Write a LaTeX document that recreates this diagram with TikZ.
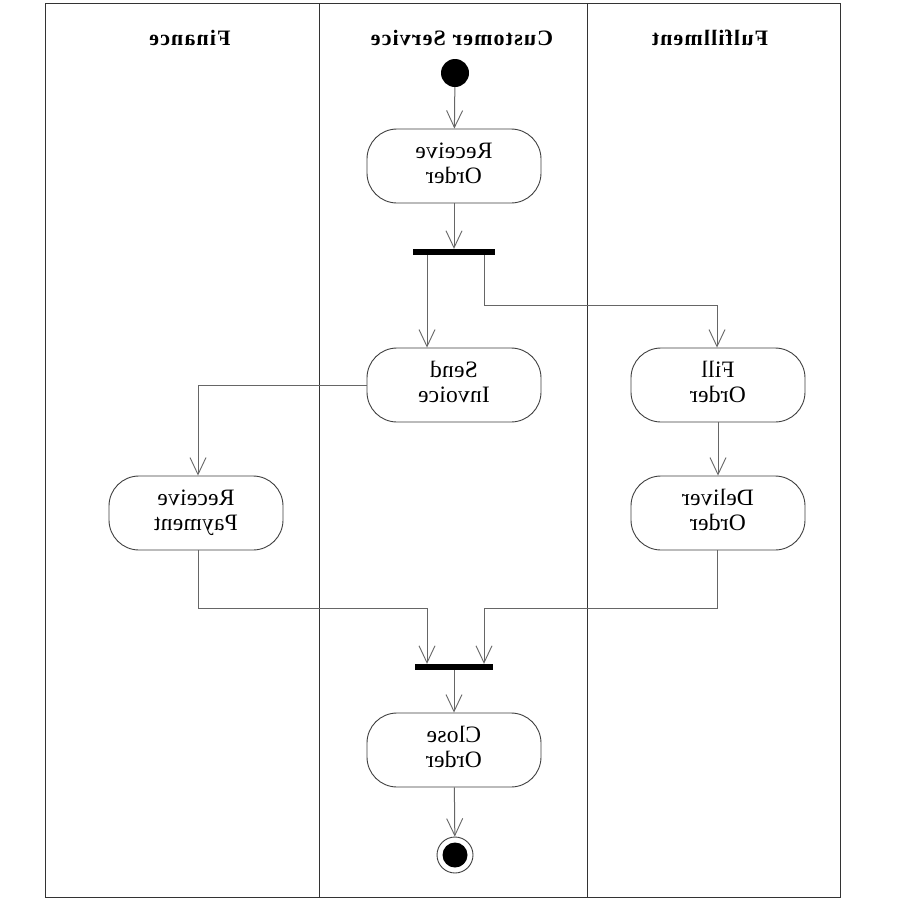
\documentclass[tikz,border=0pt]{standalone}
\usepackage{fontspec}
\setmainfont{Liberation Serif}
\newfontfamily\headfont[LetterSpace=5]{Liberation Serif}
\newfontfamily\actfont[LetterSpace=1]{Liberation Serif}
\usetikzlibrary{arrows.meta}
\tikzset{
  lane/.style={draw=black!80, line width=0.9pt},
  action/.style={draw=black!75, line width=0.9pt, rounded corners=30pt,
    minimum width=174pt, minimum height=74pt, fill=white},
  flow/.style={draw=black!60, line width=1pt,
    -{Straight Barb[length=17pt,width=16pt,line width=0.9pt]}},
  bar/.style={fill=black, draw=none, minimum width=82pt, minimum height=6pt, inner sep=0pt},
  lanehead/.style={font=\headfont\fontsize{22}{26}\selectfont\bfseries},
  acttext/.style={font=\actfont\fontsize{23.5}{25.5}\selectfont, align=center}
}
\newcommand{\mirtxt}[1]{\reflectbox{\begin{tabular}{@{}c@{}}#1\end{tabular}}}
\begin{document}
\begin{tikzpicture}[x=1pt,y=-1pt]
  \useasboundingbox (0,0) rectangle (900,900);
  \fill[white] (0,0) rectangle (900,900);

  % swimlane frame
  \draw[lane] (45,3) rectangle (840,897);
  \draw[lane] (319,3) -- (319,897);
  \draw[lane] (587,3) -- (587,897);

  \node[lanehead] (hfin) at (190,38) {\reflectbox{Finance}};
  \node[lanehead] (hcs) at (462,38) {\reflectbox{Customer Service}};
  \node[lanehead] (hful) at (710,38) {\reflectbox{Fulfillment}};

  % initial and final states
  \node[circle, fill=black, minimum size=28pt, inner sep=0pt] (start) at (455,73) {};
  \node[circle, draw=black!75, line width=0.9pt, minimum size=36pt, inner sep=0pt] (stop) at (455,855) {};
  \node[circle, fill=black, minimum size=25pt, inner sep=0pt] (stopdot) at (455,855) {};

  % actions
  \node[action, acttext] (recv) at (454,166) {\mirtxt{Receive\\Order}};
  \node[action, acttext] (inv) at (454,385) {\mirtxt{Send\\Invoice}};
  \node[action, acttext] (fill) at (718,385) {\mirtxt{Fill\\Order}};
  \node[action, acttext] (deliv) at (718,513) {\mirtxt{Deliver\\Order}};
  \node[action, acttext] (pay) at (196,513) {\mirtxt{Receive\\Payment}};
  \node[action, acttext] (close) at (454,750) {\mirtxt{Close\\Order}};

  % fork and join bars
  \node[bar] (fork) at (454,252) {};
  \node[bar, minimum width=78pt] (join) at (454,667) {};

  % routing points
  \coordinate (f1) at (484,305);
  \coordinate (f2) at (717,305);
  \coordinate (p1) at (198,385);
  \coordinate (j1) at (198,608);
  \coordinate (j2) at (427,608);
  \coordinate (j3) at (717,608);
  \coordinate (j4) at (484,608);

  % flows
  \draw[flow] (start) -- (recv);
  \draw[flow] (recv) -- (fork);
  \draw[flow] (fork.south -| 427,0) -- (inv.north -| 427,0);
  \draw[flow] (fork.south -| f1) -- (f1) -- (f2) -- (fill.north -| f2);
  \draw[flow] (inv.west) -- (p1) -- (pay.north -| p1);
  \draw[flow] (fill) -- (deliv);
  \draw[flow] (pay.south -| j1) -- (j1) -- (j2) -- (join.north -| j2);
  \draw[flow] (deliv.south -| j3) -- (j3) -- (j4) -- (join.north -| j4);
  \draw[flow] (join) -- (close);
  \draw[flow] (close) -- (stop);
\end{tikzpicture}
\end{document}
